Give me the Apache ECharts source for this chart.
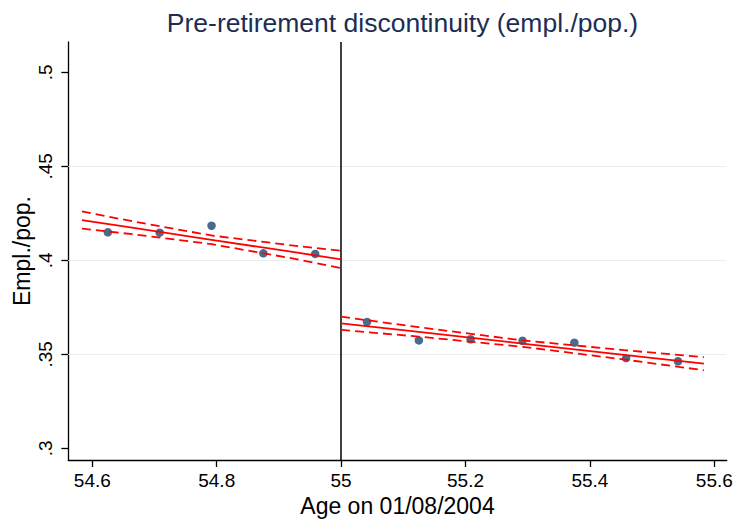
<!DOCTYPE html>
<html>
<head>
<meta charset="utf-8">
<script src="https://cdn.jsdelivr.net/npm/echarts@6/dist/echarts.min.js"></script>
<style>
html,body{margin:0;padding:0;background:#fff;}
#chart{width:735px;height:519px;}
</style>
</head>
<body>
<div id="chart"></div>
<script>
// ---- data ----
const leftAge = [54.625, 54.7083, 54.7917, 54.875, 54.9583];
const leftEmpl = [0.4149, 0.4147, 0.4184, 0.4037, 0.4034];
const rightAge = [55.0417, 55.125, 55.2083, 55.2917, 55.375, 55.4583, 55.5417];
const rightEmpl = [0.3672, 0.3574, 0.3580, 0.3572, 0.3562, 0.3480, 0.3463];

const leftFitX = [54.5833, 54.6667, 54.7917, 54.9167, 55.0];
const leftFit = [0.4214, 0.4172, 0.4109, 0.4047, 0.4005];
const leftUpper = [0.4260, 0.4206, 0.4132, 0.4081, 0.4051];
const leftLower = [0.4168, 0.4138, 0.4086, 0.4013, 0.3959];

const rightFitX = [55.0, 55.125, 55.2917, 55.4583, 55.5833];
const rightFit = [0.3665, 0.3619, 0.3557, 0.3496, 0.3450];
const rightUpper = [0.3700, 0.3644, 0.3574, 0.3521, 0.3485];
const rightLower = [0.3630, 0.3594, 0.3540, 0.3471, 0.3415];

const cutoff = 55;
const xTicks = [54.6, 54.8, 55, 55.2, 55.4, 55.6];
const xTickLabels = ['54.6', '54.8', '55', '55.2', '55.4', '55.6'];
const yTicks = [0.3, 0.35, 0.4, 0.45, 0.5];
const yTickLabels = ['.3', '.35', '.4', '.45', '.5'];
const yGrid = [0.35, 0.4, 0.45];

const titleText = 'Pre-retirement discontinuity (empl./pop.)';
const xTitle = 'Age on 01/08/2004';
const yTitle = 'Empl./pop.';

// ---- helpers ----
const zip = (xs, ys) => xs.map((x, i) => [x, ys[i]]);
const labelFor = (ticks, labels) => v => {
  for (let i = 0; i < ticks.length; i++) if (Math.abs(ticks[i] - v) < 1e-6) return labels[i];
  return '';
};

const FONT = '"Liberation Sans", Arial, Helvetica, sans-serif';
const RED = '#ff0000';

// plot region (pixels) and its data range
const PLOT = { left: 68.3, right: 726.7, top: 42, bottom: 460 };
const X_RANGE = [54.56141, 55.61994];
const Y_RANGE = [0.293777, 0.516117];
// pixel position of the first/last tick, for the tick-only axes
const xpx = v => PLOT.left + (v - X_RANGE[0]) / (X_RANGE[1] - X_RANGE[0]) * (PLOT.right - PLOT.left);
const ypx = v => PLOT.bottom - (v - Y_RANGE[0]) / (Y_RANGE[1] - Y_RANGE[0]) * (PLOT.bottom - PLOT.top);
const tL = xpx(xTicks[0]), tR = xpx(xTicks[xTicks.length - 1]);
const tB = ypx(yTicks[0]), tT = ypx(yTicks[yTicks.length - 1]);

function lineSeries(xs, ys, dashed) {
  return {
    type: 'line',
    data: zip(xs, ys),
    showSymbol: false,
    symbol: 'none',
    silent: true,
    z: 5,
    lineStyle: { color: RED, width: 1.8, type: dashed ? [9, 5] : 'solid' },
    animation: false
  };
}

const chart = echarts.init(document.getElementById('chart'), null, { renderer: 'svg' });
chart.setOption({
  animation: false,
  backgroundColor: '#ffffff',
  title: {
    text: titleText,
    left: 397.5,
    top: 4,
    textAlign: 'center',
    textStyle: { fontFamily: FONT, fontSize: 26.5, fontWeight: 'normal', color: '#1c2d54' }
  },
  grid: [
    { left: PLOT.left, right: 735 - PLOT.right, top: PLOT.top, bottom: 519 - PLOT.bottom,
      containLabel: false, outerBoundsMode: 'none' },
    { left: tL, right: 735 - tR, top: tT, bottom: 519 - tB,
      containLabel: false, outerBoundsMode: 'none' }
  ],
  xAxis: [
    {
      type: 'value', gridIndex: 0,
      min: X_RANGE[0], max: X_RANGE[1],
      name: xTitle, nameLocation: 'middle', nameGap: 34,
      nameTextStyle: { fontFamily: FONT, fontSize: 23, color: '#000' },
      axisLine: { show: true, onZero: false, lineStyle: { color: '#000', width: 1.3 } },
      axisTick: { show: false }, axisLabel: { show: false }, splitLine: { show: false }
    },
    {
      type: 'value', gridIndex: 1,
      min: xTicks[0], max: xTicks[xTicks.length - 1], interval: 0.2,
      offset: PLOT.bottom - tB,
      axisLine: { show: false, onZero: false },
      axisTick: { show: true, inside: false, length: 7, lineStyle: { color: '#000', width: 1.3 } },
      axisLabel: { fontFamily: FONT, fontSize: 19, color: '#000', margin: 11,
        formatter: labelFor(xTicks, xTickLabels) },
      splitLine: { show: false }
    }
  ],
  yAxis: [
    {
      type: 'value', gridIndex: 0,
      min: Y_RANGE[0], max: Y_RANGE[1],
      name: yTitle, nameLocation: 'middle', nameGap: 35,
      nameTextStyle: { fontFamily: FONT, fontSize: 23, color: '#000' },
      axisLine: { show: true, onZero: false, lineStyle: { color: '#000', width: 1.3 } },
      axisTick: { show: false }, axisLabel: { show: false }, splitLine: { show: false }
    },
    {
      type: 'value', gridIndex: 1,
      min: yTicks[0], max: yTicks[yTicks.length - 1], interval: 0.05,
      offset: tL - PLOT.left,
      axisLine: { show: false, onZero: false },
      axisTick: { show: true, inside: false, length: 7, lineStyle: { color: '#000', width: 1.3 } },
      axisLabel: { fontFamily: FONT, fontSize: 19, color: '#000', margin: 13, rotate: 90,
        formatter: labelFor(yTicks, yTickLabels) },
      splitLine: { show: false }
    }
  ],
  series: [
    {
      type: 'scatter',
      xAxisIndex: 0, yAxisIndex: 0,
      data: zip(leftAge, leftEmpl).concat(zip(rightAge, rightEmpl)),
      symbol: 'circle',
      symbolSize: 8.5,
      itemStyle: { color: '#1a476f' },
      z: 3,
      markLine: {
        silent: true,
        symbol: 'none',
        label: { show: false },
        animation: false,
        data: yGrid.map(v => ({ yAxis: v, lineStyle: { color: '#e7eef1', width: 1.2, type: 'solid' } }))
          .concat([{ xAxis: cutoff, lineStyle: { color: '#000', width: 1.5, type: 'solid' } }])
      }
    },
    lineSeries(leftFitX, leftFit, false),
    lineSeries(leftFitX, leftUpper, true),
    lineSeries(leftFitX, leftLower, true),
    lineSeries(rightFitX, rightFit, false),
    lineSeries(rightFitX, rightUpper, true),
    lineSeries(rightFitX, rightLower, true)
  ]
});
</script>
</body>
</html>
